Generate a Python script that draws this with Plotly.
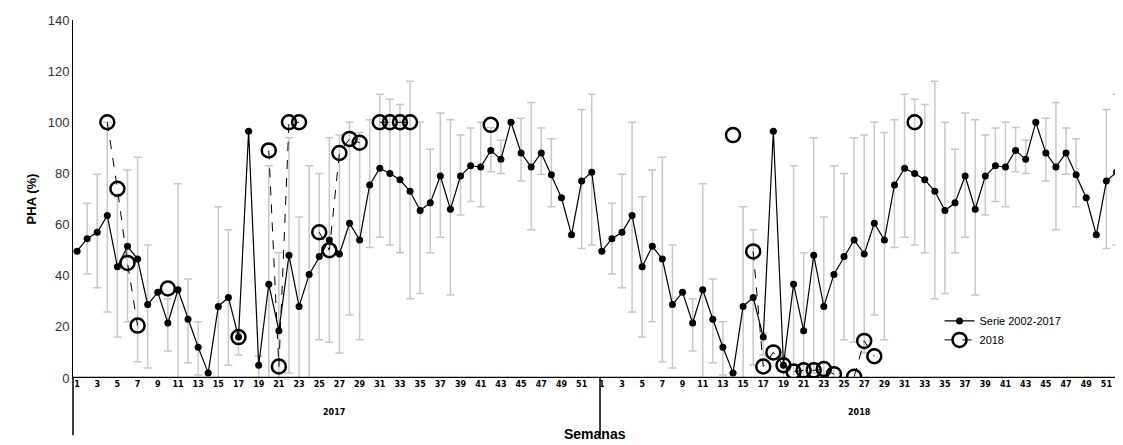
import plotly.graph_objects as go

weeks = list(range(1, 53))
serie = [49.6, 54.5, 57, 63.5, 43.5, 51.5, 46.5, 28.7, 33.5, 21.5, 34.5, 23, 12, 2,
         28, 31.5, 16, 96.5, 5, 36.7, 18.5, 48, 28, 40.5, 47.5, 54, 48.5, 60.5, 54,
         75.5, 82, 80, 77.5, 73, 65.5, 68.5, 79, 66, 79, 83, 82.5, 89, 85.5, 100, 88,
         82.5, 88, 79.5, 70.5, 56, 77, 80.5]
upper = [None, 68.3, 79.7, 100, 70.9, 81.3, 86.3, 52, None, 31, 76, 38.7, 22, None,
         67, 58, 17.6, None, 8.6, 83, 49, 94, 63, 83, 80, 94, 95, 100, 96, 101, 111,
         109, 107, 116, 100, 89.5, 103.6, 101, 95, 97.8, 100, 98, 93, None, 101.6,
         107.7, 97.8, 93.6, None, None, 105, 111]
lower = [None, 40.7, 35.3, 25.8, 16, 22, 6.4, 3.9, None, 10.6, 0, 6, 1.2, None,
         0, 5, 9, None, 0, 0, 0, 2, 0, 0, 15, 14, 9.8, 24.6, 15, 51, 55, 52, 49, 31,
         33, 49, 55, 32.5, 63.7, 69, 67, 80.7, 80, None, 77, 58, 79.7, 67, None, None,
         50.6, 52]
s2018_a = [None, None, None, 100, 74, 45, 20.5, None, None, 35, None, None, None, None,
           None, None, 16, None, None, 89, 4.5, 100, 100, None, 57, 50, 88, 93.5, 92,
           None, 100, 100, 100, 100, None, None, None, None, None, None, None, 99,
           None, None, None, None, None, None, None, None, None, None]
s2018_b = [None] * 13 + [95, None, 49.5, 4.5, 10, 5, 2.5, 3, 3, 3.5, 1.5, None, 0.5,
                          14.5, 8.5, None, None, None, 100] + [None] * 20
years = ["2017", "2018"]

x = list(range(1, 105))
y_serie = serie + serie
up = [(u - v) if u is not None else 0 for u, v in zip(upper, serie)] * 2
dn = [(v - l) if l is not None else 0 for l, v in zip(lower, serie)] * 2

fig = go.Figure()
fig.add_trace(go.Scatter(
    x=x, y=y_serie, mode="lines+markers", name="Serie 2002-2017",
    line=dict(color="black", width=1.2), marker=dict(color="black", size=7),
    error_y=dict(type="data", array=up, arrayminus=dn, color="#c8c8c8",
                 thickness=1.5, width=4),
))
fig.add_trace(go.Scatter(
    x=x, y=s2018_a + s2018_b, mode="lines+markers", name="2018",
    line=dict(color="black", width=1, dash="dash"),
    marker=dict(symbol="circle-open", color="black", size=14, line=dict(width=2.5)),
))

ticks = [v for v in x if ((v - 1) % 52) % 2 == 0]
fig.update_xaxes(
    range=[0.6, 104.05], tickvals=ticks,
    ticktext=[f"<b>{(v - 1) % 52 + 1}</b>" for v in ticks],
    showline=False, showgrid=False, zeroline=False, ticks="",
    tickfont=dict(family="DejaVu Sans", size=8, color="black"),
)
fig.update_yaxes(
    range=[0, 140], dtick=20, showgrid=False, zeroline=False, showline=True,
    linecolor="black", linewidth=1, ticks="",
    title=dict(text="<b>PHA (%)</b>", font=dict(size=13, color="black"), standoff=8),
    tickfont=dict(size=13, color="#333"),
)

# axis line and year separators
fig.add_shape(type="line", xref="paper", yref="y", x0=0, x1=1, y0=0, y1=0,
              line=dict(color="black", width=2.5))
for xp in [0, 0.5048, 1]:
    fig.add_shape(type="line", xref="paper", yref="paper", x0=xp, x1=xp, y0=0,
                  y1=-0.16, line=dict(color="black", width=1.5))
for i, yr in enumerate(years):
    fig.add_annotation(x=26.5 + 52 * i, y=-0.115, xref="x", yref="paper", text=f"<b>{yr}</b>",
                       showarrow=False, font=dict(family="DejaVu Sans", size=8, color="black"))
fig.add_annotation(x=0.5, y=-0.185, xref="paper", yref="paper", text="<b>Semanas</b>",
                   showarrow=False, font=dict(size=14, color="black"))

fig.update_layout(
    width=1123, height=445, plot_bgcolor="white", paper_bgcolor="white",
    margin=dict(l=65, r=14, t=12, b=75, autoexpand=False),
    font=dict(family="Liberation Sans", color="black"),
    legend=dict(x=0.83, y=0.2, xanchor="left", yanchor="top", bgcolor="rgba(0,0,0,0)",
                font=dict(size=11), tracegroupgap=8),
)

fig.write_html("out.html")
